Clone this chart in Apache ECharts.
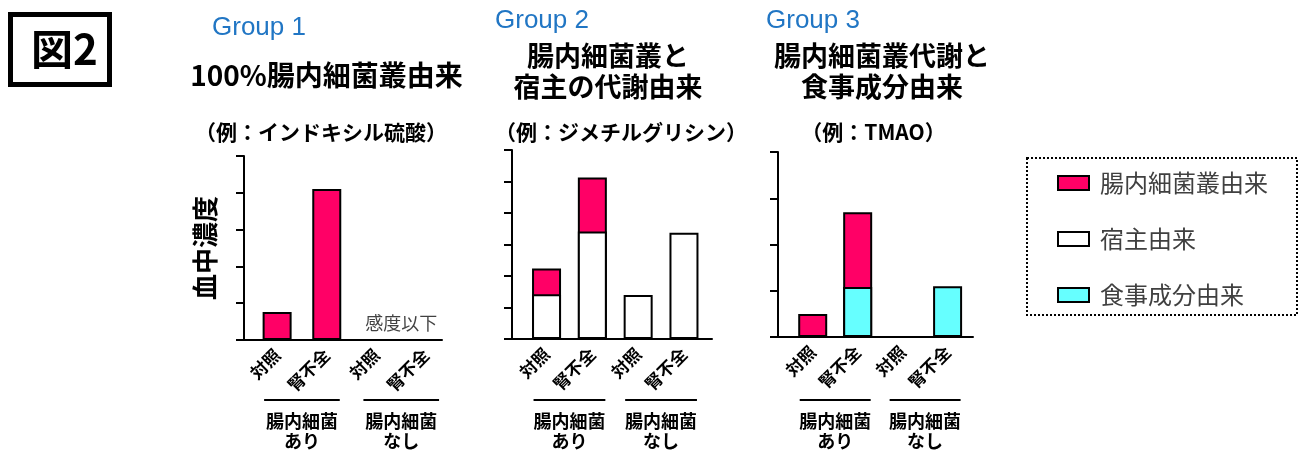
<!DOCTYPE html>
<html>
<head>
<meta charset="utf-8">
<script src="https://cdn.jsdelivr.net/npm/echarts@6/dist/echarts.min.js"></script>
<style>
html,body{margin:0;padding:0;background:#fff;}
#chart{width:1302px;height:453px;}
</style>
</head>
<body>
<div id="chart"></div>
<script>
// ---- data ----
const categories = ['対照', '腎不全', '対照', '腎不全'];
const groupLabels = ['腸内細菌\nあり', '腸内細菌\nなし'];
const groupNames = ['Group 1', 'Group 2', 'Group 3'];
const groupTitles = ['100%腸内細菌叢由来', '腸内細菌叢と\n宿主の代謝由来', '腸内細菌叢代謝と\n食事成分由来'];
const groupExamples = ['（例：インドキシル硫酸）', '（例：ジメチルグリシン）', '（例：TMAO）'];
const seriesNames = ['腸内細菌叢由来', '宿主由来', '食事成分由来'];
const g1Microbe = [0.76, 4.10, null, null];
const g1Note = '感度以下';
const g2Host = [1.42, 3.41, 1.40, 3.37];
const g2Microbe = [0.82, 1.72, null, null];
const g3Diet = [null, 1.08, null, 1.10];
const g3Microbe = [0.50, 1.62, null, null];
const yMax = [5, 6, 4];
const yAxisName = '血中濃度';
const figLabel = '図2';

// ---- styles / layout ----
const JP = "'Noto Sans CJK JP', sans-serif";
const PINK = '#ff0066', CYAN = '#66ffff', WHITE = '#ffffff', BLUE = '#2176c4';
const grids = [
  {left: 244, top: 156, width: 198, height: 184},
  {left: 512, top: 150, width: 200, height: 189},
  {left: 778, top: 152, width: 195, height: 185}
];
const xRanges = [[-0.667, 3.321], [-0.754, 3.612], [-0.772, 3.565]];

const pairs = arr => arr.map((v, i) => [i, v]);
// stacked look: upper segment drawn as cumulative total behind the lower segment
const onTop = (lower, upper) => upper.map((u, i) => u == null ? null : (lower[i] || 0) + u);
const barStyle = c => ({color: c, borderColor: '#000', borderWidth: 2});

const xAxes = grids.map((g, i) => ({
  gridIndex: i, type: 'value', min: xRanges[i][0], max: xRanges[i][1],
  axisLine: {show: true, onZero: false, lineStyle: {color: '#000', width: 2}},
  axisTick: {show: false}, splitLine: {show: false},
  axisLabel: {
    customValues: [0, 1, 2, 3],
    formatter: v => categories[Math.round(v)],
    rotate: 45, margin: 12, fontSize: 17, fontWeight: 'bold', color: '#000', fontFamily: JP
  }
}));
const yAxes = grids.map((g, i) => ({
  gridIndex: i, type: 'value', min: 0, max: yMax[i], interval: 1,
  axisLine: {show: true, onZero: false, lineStyle: {color: '#000', width: 2}},
  axisTick: {show: true, length: 8, lineStyle: {color: '#000', width: 2}},
  axisLabel: {show: false}, splitLine: {show: false},
  name: i === 0 ? yAxisName : '', nameLocation: 'middle', nameGap: 26, nameRotate: 90,
  nameTextStyle: {fontSize: 26, fontWeight: 'bold', color: '#000', fontFamily: JP}
}));

const bar = (name, gi, data, color) => ({
  name, type: 'bar', xAxisIndex: gi, yAxisIndex: gi, barGap: '-100%',
  barWidth: 29, data: pairs(data), itemStyle: barStyle(color)
});

const series = [
  bar(seriesNames[0], 0, g1Microbe, PINK),
  {
    type: 'scatter', xAxisIndex: 0, yAxisIndex: 0, symbolSize: 0, silent: true,
    data: [[2.5, 0.46]],
    label: {show: true, position: 'inside', formatter: g1Note, fontSize: 18, color: '#111', fontFamily: JP}
  },
  bar(seriesNames[0], 1, onTop(g2Host, g2Microbe), PINK),
  bar(seriesNames[1], 1, g2Host, WHITE),
  bar(seriesNames[0], 2, onTop(g3Diet, g3Microbe), PINK),
  bar(seriesNames[2], 2, g3Diet, CYAN)
];

const chart = echarts.init(document.getElementById('chart'));
chart.setOption({
  animation: false,
  backgroundColor: '#fff',
  grid: grids,
  xAxis: xAxes,
  yAxis: yAxes,
  legend: {
    data: seriesNames, orient: 'vertical', left: 1057, top: 171, padding: 0,
    itemWidth: 31, itemHeight: 14, itemGap: 32, icon: 'rect', selectedMode: false,
    textStyle: {fontSize: 24, color: '#404040', fontFamily: JP, padding: [0, 0, 0, 6]}
  },
  series
});

// ---- annotations (titles, group underlines), positioned through the chart's scales ----
const gr = [];
gr.push({type: 'rect', shape: {x: 10.5, y: 14.5, width: 99, height: 70}, style: {fill: 'none', stroke: '#000', lineWidth: 5}});
gr.push({type: 'text', x: 64.5, y: 49, style: {text: figLabel, fontSize: 42, fontWeight: 'bold', fill: '#000', fontFamily: JP, textAlign: 'center', textVerticalAlign: 'middle'}});
gr.push({type: 'rect', shape: {x: 1027, y: 158, width: 270, height: 157}, style: {fill: 'none', stroke: '#000', lineWidth: 2, lineDash: [2, 2]}});

const nameY = [27.5, 21, 21];
const nameX = [212, 495, 766];
const titleCX = [326.5, 608, 882];
const exCX = [321, 621, 873.5];
for (let i = 0; i < 3; i++) {
  gr.push({type: 'text', x: nameX[i], y: nameY[i], style: {text: groupNames[i], fontSize: 26, fill: BLUE, fontFamily: "'Liberation Sans', Arial, sans-serif", textAlign: 'left', textVerticalAlign: 'middle'}});
  if (i === 0) {
    gr.push({type: 'text', x: titleCX[i], y: 75, style: {text: groupTitles[i], fontSize: 28, fontWeight: 'bold', fill: '#000', fontFamily: JP, textAlign: 'center', textVerticalAlign: 'middle'}});
  } else {
    gr.push({type: 'text', x: titleCX[i], y: 71.5, style: {text: groupTitles[i], fontSize: 27, lineHeight: 31, fontWeight: 'bold', fill: '#000', fontFamily: JP, textAlign: 'center', textVerticalAlign: 'middle'}});
  }
  gr.push({type: 'text', x: exCX[i], y: 132, style: {text: groupExamples[i], fontSize: 21, fontWeight: 'bold', fill: '#000', fontFamily: JP, textAlign: 'center', textVerticalAlign: 'middle'}});
  for (let p = 0; p < 2; p++) {
    const a = chart.convertToPixel({gridIndex: i}, [p * 2, 0]);
    const b = chart.convertToPixel({gridIndex: i}, [p * 2 + 1, 0]);
    const x1 = a[0] - 13, x2 = b[0] + 13;
    gr.push({type: 'line', shape: {x1, y1: 400, x2, y2: 400}, style: {stroke: '#000', lineWidth: 2}});
    gr.push({type: 'text', x: (x1 + x2) / 2, y: 431, style: {text: groupLabels[p], fontSize: 18, lineHeight: 20, fontWeight: 'bold', fill: '#000', fontFamily: JP, textAlign: 'center', textVerticalAlign: 'middle'}});
  }
}
chart.setOption({graphic: gr});
</script>
</body>
</html>
